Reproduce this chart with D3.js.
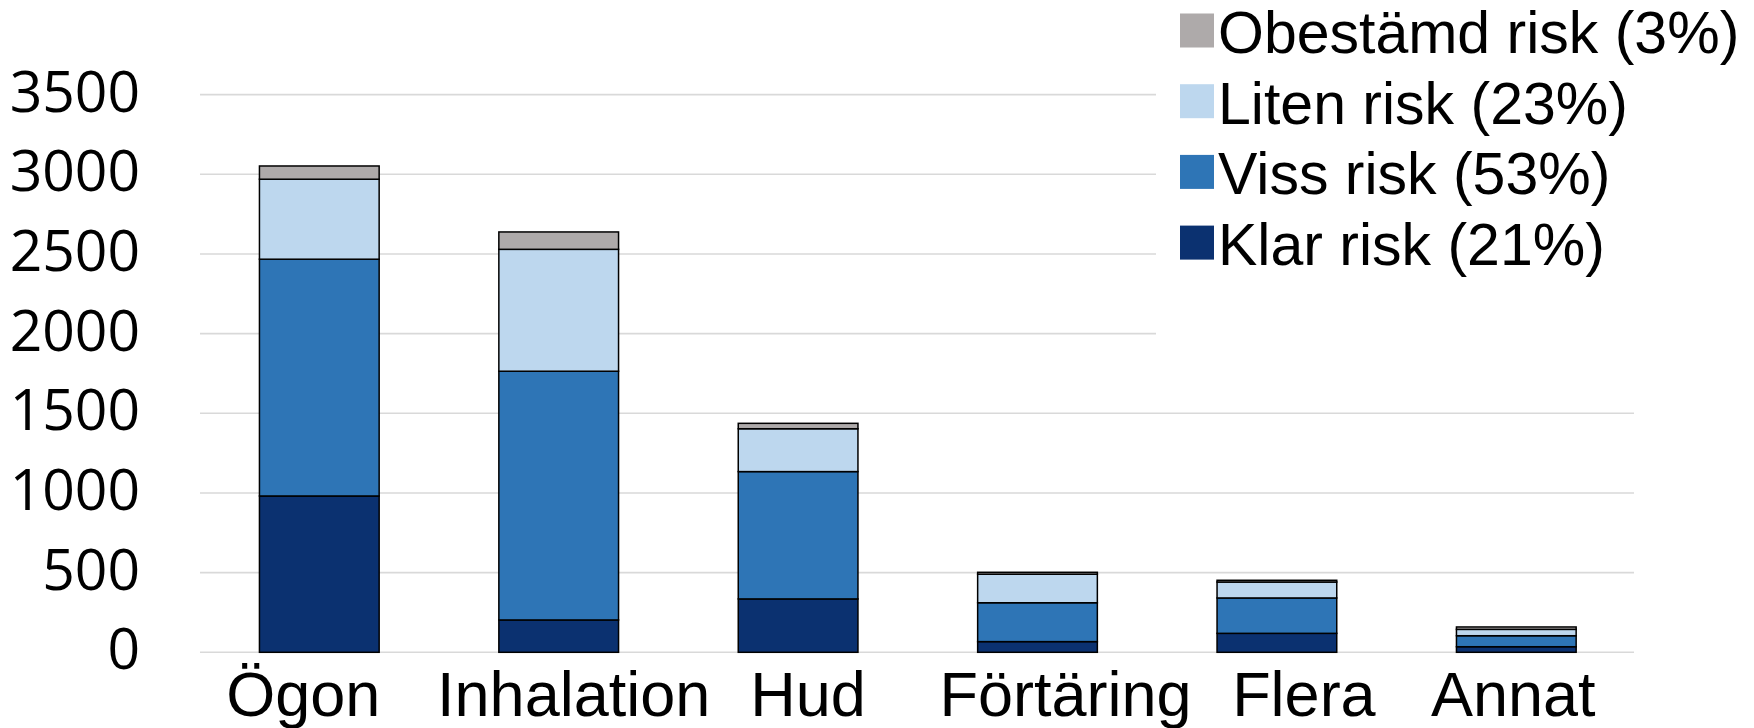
<!DOCTYPE html>
<html>
<head>
<meta charset="utf-8">
<script src="https://cdn.jsdelivr.net/npm/d3@7"></script>
<style>
  html, body { margin: 0; padding: 0; background: #fff; }
  svg { display: block; }
</style>
</head>
<body>
<svg id="chart" width="1754" height="728"></svg>
<script>
// ---- Data ----
const categories = ["Ögon", "Inhalation", "Hud", "Förtäring", "Flera", "Annat"];
const klarRisk     = [981, 203, 335, 67, 119, 35];
const vissRisk     = [1486, 1561, 799, 244, 222, 69];
const litenRisk    = [502, 765, 269, 179, 100, 40];
const obestamdRisk = [83, 109, 34, 12, 11, 15];
const seriesNames  = ["Klar risk (21%)", "Viss risk (53%)", "Liten risk (23%)", "Obestämd risk (3%)"];
const yTicks       = [0, 500, 1000, 1500, 2000, 2500, 3000, 3500];

// ---- Styles ----
const colors = ["#0b3170", "#2e75b6", "#bdd7ee", "#aeaaaa"];
const labelNudge = [-16, 15, 10, 28, 27, -3];

const svg = d3.select("#chart");
const W = 1754, H = 728;

const x = d3.scaleBand()
  .domain(categories)
  .range([199.6, 1636])
  .paddingInner(0.5)
  .paddingOuter(0.25);

const y = d3.scaleLinear()
  .domain([0, 3500])
  .range([652.3, 94.6]);

// gridlines
svg.append("g").selectAll("line")
  .data(yTicks)
  .join("line")
  .attr("x1", 200).attr("x2", 1634)
  .attr("y1", d => y(d)).attr("y2", d => y(d))
  .attr("stroke", "#d9d9d9")
  .attr("stroke-width", 1.6);

// y tick labels
svg.append("g").selectAll("text")
  .data(yTicks)
  .join("text")
  .attr("x", 140)
  .attr("y", d => y(d) + 17)
  .attr("text-anchor", "end")
  .attr("font-family", "'Open Sans', sans-serif")
  .attr("font-size", 57)
  .attr("fill", "#000")
  .text(d => d);

// stacked data
const rows = categories.map((c, i) => ({
  cat: c, k: klarRisk[i], v: vissRisk[i], l: litenRisk[i], o: obestamdRisk[i]
}));
const stack = d3.stack().keys(["k", "v", "l", "o"]);
const stacked = stack(rows);

// legend background (covers gridlines in upper right)
svg.append("rect")
  .attr("x", 1156).attr("y", 0)
  .attr("width", W - 1156).attr("height", 380)
  .attr("fill", "#fff");

svg.append("g").selectAll("g")
  .data(stacked)
  .join("g")
  .attr("fill", (d, i) => colors[i])
  .selectAll("rect")
  .data(d => d)
  .join("rect")
  .attr("x", d => x(d.data.cat))
  .attr("width", x.bandwidth())
  .attr("y", d => y(d[1]))
  .attr("height", d => y(d[0]) - y(d[1]))
  .attr("stroke", "#000")
  .attr("stroke-width", 1.5);

// category labels
svg.append("g").selectAll("text")
  .data(categories)
  .join("text")
  .attr("x", (d, i) => x(d) + x.bandwidth() / 2 + labelNudge[i])
  .attr("y", 716)
  .attr("text-anchor", "middle")
  .attr("font-family", "'Liberation Sans', Arial, sans-serif")
  .attr("font-size", 63)
  .attr("fill", "#000")
  .text(d => d);

// legend (top to bottom: reverse order)
const legendOrder = [3, 2, 1, 0];
const lg = svg.append("g");
legendOrder.forEach((si, r) => {
  const top = 13.5 + r * 70.7;
  lg.append("rect")
    .attr("x", 1180).attr("y", top)
    .attr("width", 34).attr("height", 34)
    .attr("fill", colors[si]);
  lg.append("text")
    .attr("x", 1218).attr("y", top + 39.5)
    .attr("font-family", "'Liberation Sans', Arial, sans-serif")
    .attr("font-size", 59)
    .attr("fill", "#000")
    .text(seriesNames[si]);
});
</script>
</body>
</html>
